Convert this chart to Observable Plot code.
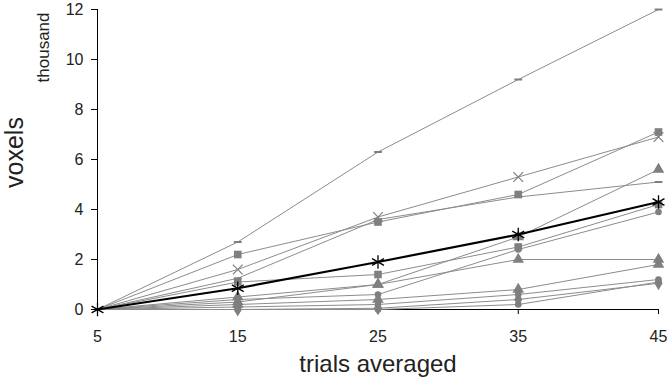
<!DOCTYPE html>
<html><head>
<meta charset="utf-8">
<script src="https://cdn.jsdelivr.net/npm/d3@7"></script>
<script src="https://cdn.jsdelivr.net/npm/@observablehq/plot@0.6"></script>
<style>body{margin:0;background:#fff;} #chart svg{display:block;}</style>
</head><body><div id="chart"></div>
<script>
const trials = [5, 15, 25, 35, 45];
const xTicks = [5, 15, 25, 35, 45];
const yTicks = [0, 2, 4, 6, 8, 10, 12];
const seriesIds = ["s1","s2","s3","s4","s5","s6","s7","s8","s9","s10","s11","s12","s13"];
const seriesValues = [
  [0, 2.7, 6.3, 9.2, 12.0],
  [0, 2.2, 3.5, 4.6, 7.1],
  [0, 1.6, 3.7, 5.3, 6.9],
  [0, 1.25, 3.6, 4.5, 5.1],
  [0, 0.85, 1.9, 3.0, 4.3],
  [0, 0.5, 1.0, 2.9, 5.6],
  [0, 1.1, 1.4, 2.5, 4.2],
  [0, 0.4, 0.6, 2.4, 3.9],
  [0, 0.3, 1.0, 2.0, 2.0],
  [0, 0.2, 0.4, 0.8, 1.8],
  [0, 0.1, 0.2, 0.6, 1.2],
  [0, 0.0, 0.05, 0.4, 1.05],
  [0, 0.0, 0.0, 0.2, 1.1]
];
const seriesMarkers = ["dash","square","times","dash","asterisk","triangle","square","circle","triangle","triangle","circle","diamond","circle"];
const mainSeries = "s5";

const rows = seriesIds.flatMap((id, i) => seriesValues[i].map((v, j) => ({id, x: trials[j], y: v, marker: seriesMarkers[i]})));
const grey = "#8c8c8c";
const markGrey = "#7f7f7f";
const dashSymbol = {draw(ctx, size) { const r = Math.sqrt(size / Math.PI); ctx.moveTo(-r * 1.3, 0); ctx.lineTo(r * 1.3, 0); }};
const others = rows.filter(d => d.id !== mainSeries);
const main = rows.filter(d => d.id === mainSeries);
const filledTypes = ["square","triangle","circle","diamond"];

const marks = [
  Plot.ruleY([0], {stroke: "#000", strokeWidth: 1}),
  Plot.ruleX([5], {stroke: "#000", strokeWidth: 1}),
  Plot.axisX({ticks: xTicks, tickSize: 5, tickPadding: 16, fontSize: 16, label: null, stroke: "#000", fill: "#222"}),
  Plot.axisY({ticks: yTicks, tickSize: 6, tickPadding: 8, fontSize: 16, label: null, stroke: "#000", fill: "#222"}),
  Plot.line(others, {x: "x", y: "y", z: "id", stroke: grey, strokeWidth: 1})
];
for (const t of filledTypes) {
  marks.push(Plot.dot(others.filter(d => d.marker === t && d.x > 5), {x: "x", y: "y", symbol: t, r: t === "circle" ? 3.3 : 4.3, fill: markGrey, stroke: "none"}));
}
marks.push(Plot.dot(others.filter(d => d.marker === "times" && d.x > 5), {x: "x", y: "y", symbol: "times", r: 4.5, stroke: markGrey, strokeWidth: 1.2, fill: "none"}));
marks.push(Plot.dot(others.filter(d => d.marker === "dash" && d.x > 5), {x: "x", y: "y", symbol: dashSymbol, r: 3, stroke: markGrey, strokeWidth: 2, fill: "none"}));
marks.push(Plot.line(main, {x: "x", y: "y", stroke: "#000", strokeWidth: 2.2}));
marks.push(Plot.dot(main, {x: "x", y: "y", symbol: "asterisk", r: 6.5, stroke: "#000", strokeWidth: 1.3, fill: "none"}));
marks.push(Plot.text(["thousand"], {frameAnchor: "top-left", dx: -54, dy: 3, rotate: -90, textAnchor: "end", lineAnchor: "middle", fontSize: 17, fill: "#222"}));
marks.push(Plot.text(["voxels"], {frameAnchor: "left", dx: -83, dy: -7, rotate: -90, textAnchor: "middle", lineAnchor: "middle", fontSize: 25, fill: "#222"}));
marks.push(Plot.text(["trials averaged"], {frameAnchor: "bottom", dy: 55, textAnchor: "middle", lineAnchor: "middle", fontSize: 24, fill: "#222"}));

const chart = Plot.plot({
  width: 667, height: 380,
  marginLeft: 97, marginRight: 9, marginTop: 9, marginBottom: 71,
  x: {domain: [5, 45]},
  y: {domain: [0, 12]},
  style: {fontFamily: "'Liberation Sans', Arial, sans-serif", fontSize: "16px", background: "#fff", overflow: "visible"},
  marks
});
document.getElementById("chart").appendChild(chart);
</script>
</body></html>
